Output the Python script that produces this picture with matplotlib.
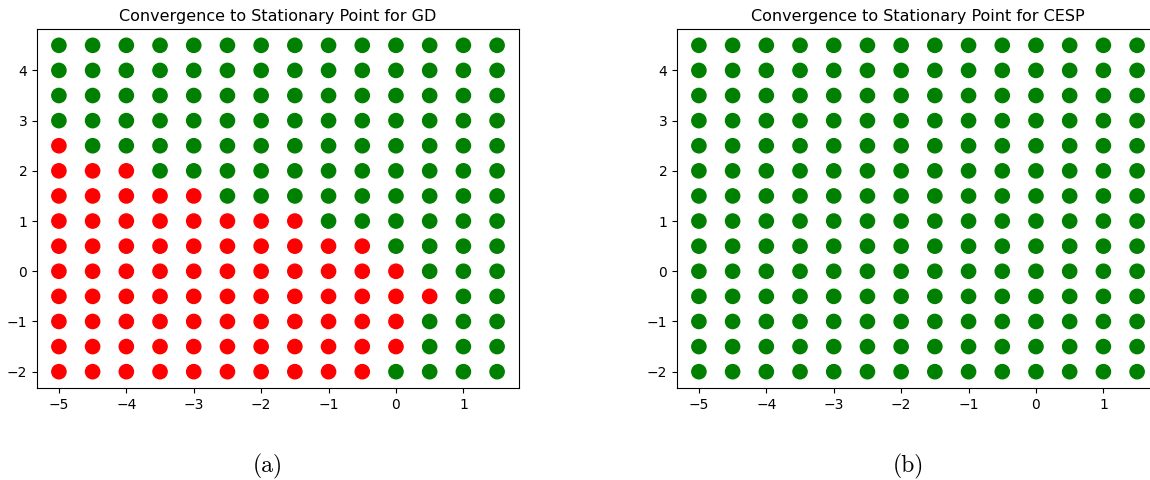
import numpy as np
import matplotlib
matplotlib.use("Agg")
import matplotlib.pyplot as plt

# grid of starting points
xs = [-5, -4.5, -4, -3.5, -3, -2.5, -2, -1.5, -1, -0.5, 0, 0.5, 1, 1.5]
ys = [-2, -1.5, -1, -0.5, 0, 0.5, 1, 1.5, 2, 2.5, 3, 3.5, 4, 4.5]

# GD: for each y row, the largest x that still fails (red); None = no red
gd_red_until = {-2: -0.5, -1.5: 0, -1: 0, -0.5: 0.5, 0: 0, 0.5: -0.5,
                1: -1.5, 1.5: -3, 2: -4, 2.5: -5, 3: None, 3.5: None,
                4: None, 4.5: None}
# CESP: every point converges
cesp_red_until = {y: None for y in ys}

titles = ["Convergence to Stationary Point for GD",
          "Convergence to Stationary Point for CESP"]
captions = ["(a)", "(b)"]


def colors_for(red_until):
    px, py, cs = [], [], []
    for y in ys:
        for x in xs:
            lim = red_until[y]
            px.append(x)
            py.append(y)
            cs.append('red' if (lim is not None and x <= lim) else 'green')
    return px, py, cs


fig = plt.figure(figsize=(11.5, 4.8), dpi=100)
W, H = 1150, 480
boxes = [(37, 29, 482, 359), (677, 29, 482, 359)]
cap_x = [268, 908]

for i, red_until in enumerate([gd_red_until, cesp_red_until]):
    l, t, w, h = boxes[i]
    ax = fig.add_axes([l / W, 1 - (t + h) / H, w / W, h / H])
    px, py, cs = colors_for(red_until)
    ax.scatter(px, py, c=cs, s=105)
    ax.set_title(titles[i], fontsize=11.5)
    ax.tick_params(labelsize=10)
    fig.text(cap_x[i] / W, 1 - 466 / H, captions[i], family='cmr10',
             fontsize=17, ha='center', va='center')

fig.savefig("out.png", dpi=100)
